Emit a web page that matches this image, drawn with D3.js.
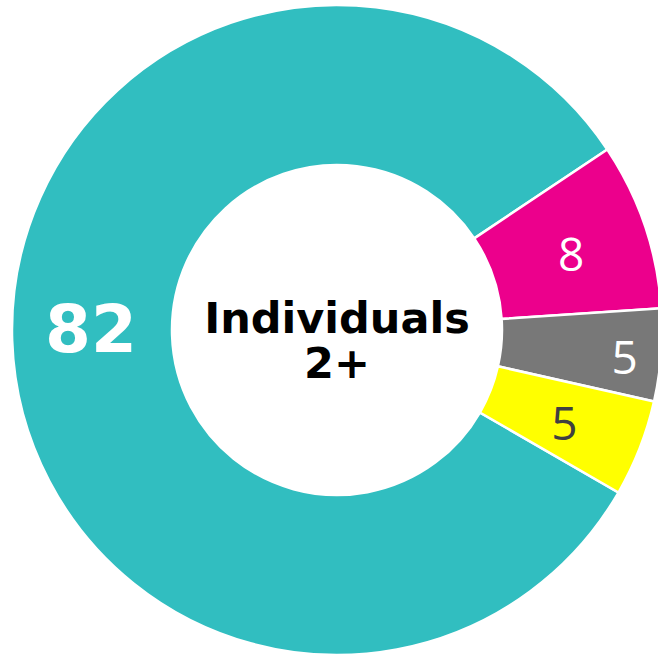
<!DOCTYPE html>
<html>
<head>
<meta charset="utf-8">
<script src="https://cdn.jsdelivr.net/npm/d3@7"></script>
<style>
  body { margin: 0; background: #fff; }
  svg { display: block; }
</style>
</head>
<body>
<svg id="chart" width="658" height="655"></svg>
<script>
// data (shares; labels show them rounded)
var categories = ["A", "B", "C", "D"];
var values = [82.3, 8.3, 4.6, 4.8];
var colors = ["#31bec0", "#ec008c", "#787878", "#ffff00"];
var labelColors = ["#ffffff", "#ffffff", "#ffffff", "#404040"];
var centerLines = ["Individuals", "2+"];

var svg = d3.select("#chart");
var cx = 337, cy = 330;
var outerR = 325, innerR = 165;

var g = svg.append("g")
    .attr("transform", "translate(" + cx + "," + cy + ")");

var start = 120 * Math.PI / 180;
var pie = d3.pie()
    .sort(null)
    .value(function(d) { return d; })
    .startAngle(start)
    .endAngle(start + 2 * Math.PI);

var arc = d3.arc().innerRadius(innerR).outerRadius(outerR);
var arcs = pie(values);

g.selectAll("path.slice")
    .data(arcs).enter()
    .append("path")
    .attr("class", "slice")
    .attr("d", arc)
    .attr("fill", function(d, i) { return colors[i]; })
    .attr("stroke", "#fff")
    .attr("stroke-width", 2.5);

// labels - grey one sits further out
function labelPos(d, i) {
  var r = i == 2 ? 289 : 246;
  var a = (d.startAngle + d.endAngle) / 2 + (i == 0 ? 2.2 : 1) * Math.PI / 180;
  return [Math.sin(a) * r, -Math.cos(a) * r];
}

g.selectAll("text.lbl")
    .data(arcs).enter()
    .append("text")
    .attr("class", "lbl")
    .attr("x", function(d, i) { return labelPos(d, i)[0]; })
    .attr("y", function(d, i) { return labelPos(d, i)[1]; })
    .attr("text-anchor", "middle")
    .attr("dy", "0.36em")
    .attr("fill", function(d, i) { return labelColors[i]; })
    .style("font-family", function(d, i) { return i == 0 ? "DejaVu Sans" : "Open Sans"; })
    .style("font-weight", function(d, i) { return i == 0 ? "bold" : "normal"; })
    .style("font-size", function(d, i) { return i == 0 ? "66px" : "46px"; })
    .text(function(d) { return Math.round(d.data); });

g.selectAll("text.center")
    .data(centerLines).enter()
    .append("text")
    .attr("class", "center")
    .attr("text-anchor", "middle")
    .attr("y", function(d, i) { return 3 + i * 45; })
    .style("font-family", "DejaVu Sans")
    .style("font-weight", "bold")
    .style("font-size", "43px")
    .attr("fill", "#000")
    .text(function(d) { return d; });
</script>
</body>
</html>
